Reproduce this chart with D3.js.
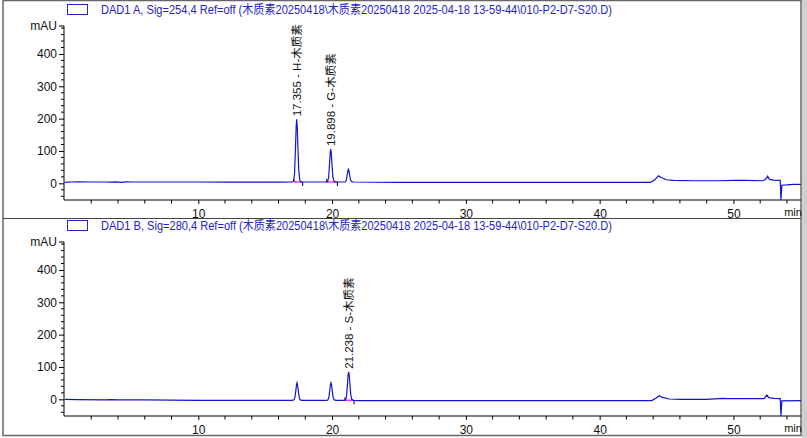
<!DOCTYPE html>
<html><head><meta charset="utf-8">
<script src="https://cdn.jsdelivr.net/npm/d3@7"></script>
<style>body{margin:0;background:#fff}svg{display:block}text{font-family:Arial,"Liberation Sans","Noto Sans CJK SC",sans-serif}</style>
</head><body><svg id="c" width="807" height="438"></svg>
<script>
// ---- data ----
const titleA = "DAD1 A, Sig=254,4 Ref=off (木质素20250418\\木质素20250418 2025-04-18 13-59-44\\010-P2-D7-S20.D)";
const titleB = "DAD1 B, Sig=280,4 Ref=off (木质素20250418\\木质素20250418 2025-04-18 13-59-44\\010-P2-D7-S20.D)";
const yTicks = [0, 100, 200, 300, 400];
const xTicks = [10, 20, 30, 40, 50];
const signalA = [[0,3],[0.5,4],[1,4.5],[2,4],[3,4],[3.5,3.5],[3.8,4.5],[4.2,3],[4.6,4.2],[5,4],[6,4],[8,4],[10,4],[12,3.5],[14,3.5],[16,3.5],[17.0,4],
 [17.115,6],[17.195,30],[17.275,122],[17.315,175],[17.355,198],[17.395,175],[17.435,125],[17.515,35],[17.6,8],[17.7,4],
 [19.5,4],[19.66,5],[19.74,18],[19.82,66],[19.86,94],[19.898,106],[19.94,95],[19.98,68],[20.06,20],[20.15,6],[20.25,4],
 [21.0,4],[21.06,9],[21.14,28],[21.18,39],[21.22,43],[21.26,39],[21.30,29],[21.38,10],[21.46,5],[21.6,4],
 [25,3],[30,3],[35,3],[40,3],[43.8,3],[44.1,10],[44.4,23],[44.6,18],[45,11],[45.5,9],[47,8],[49,8],[50,9],[51,9],[52.2,8],[52.45,14],[52.55,22],[52.7,12],[53,10],[53.5,9],[53.55,-60],[53.62,-6],[54,-5],[54.5,-3],[55.05,-3]];
const signalB = [[0,0],[1,-1],[3,-1.5],[3.5,-1],[4,-2],[6,-2],[10,-3],[14,-3],[17.0,-3],
 [17.14,-2],[17.22,5],[17.30,29],[17.34,45],[17.38,51],[17.42,45],[17.46,31],[17.54,6],[17.62,-2],[17.75,-3],
 [19.6,-3],[19.68,-2],[19.76,6],[19.84,31],[19.88,45],[19.92,51],[19.96,45],[20.0,31],[20.08,6],[20.16,-2],[20.3,-3],
 [20.95,-3],[21.0,-2],[21.08,9],[21.16,52],[21.20,76],[21.238,85],[21.28,76],[21.32,54],[21.40,12],[21.48,-1],[21.6,-3],
 [22,-4],[30,-4],[40,-4],[43.9,-4],[44.2,3],[44.45,11],[44.7,6],[45.2,1],[46,0],[48,0],[49.2,3],[49.6,2],[50.5,2],[52.3,2],[52.5,13],[52.65,5],[53,3],[53.5,2],[53.55,-60],[53.62,-5],[55.05,-4]];
const peaksA = [{t:17.355, v:198, label:"17.355 - H-木质素"}, {t:19.898, v:106, label:"19.898 - G-木质素"}];
const peaksB = [{t:21.238, v:85, label:"21.238 - S-木质素"}];
const integA = [[17.15, 17.8, 4], [19.6, 20.4, 4]];
const integB = [[20.96, 21.64, -3]];

// ---- drawing ----
const svg = d3.select("#c");
const lineCol = "#1414cc", textBlue = "#2323c8", pink = "#ff30c8";
const x = d3.scaleLinear().domain([0, 55.05]).range([64.5, 801]);
const y = d3.scaleLinear().domain([-51.6, 486.5]).range([200, 26]);

// frame
svg.append("rect").attr("x", 802).attr("y", 0).attr("width", 5).attr("height", 438).attr("fill", "#d0d0d0");
svg.append("rect").attr("x", 3).attr("y", 0.5).attr("width", 798).attr("height", 435).attr("fill", "none").attr("stroke", "#666").attr("stroke-width", 1.5);
svg.append("line").attr("x1", 3).attr("x2", 801).attr("y1", 218.5).attr("y2", 218.5).attr("stroke", "#444").attr("stroke-width", 1.2);

function panel(dy, title, signal, peaks, integ) {
  const g = svg.append("g").attr("transform", `translate(0,${dy})`);
  svg.append("defs").append("clipPath").attr("id", "cp" + dy).append("rect")
    .attr("x", 64).attr("y", 20).attr("width", 738).attr("height", 180.5);
  // title
  g.append("rect").attr("x", 67.5).attr("y", 4.5).attr("width", 20).attr("height", 10).attr("fill", "#fff").attr("stroke", textBlue).attr("stroke-width", 1);
  g.append("text").attr("x", 101).attr("y", 14).attr("font-size", 12).attr("fill", textBlue)
    .attr("textLength", 511).attr("lengthAdjust", "spacingAndGlyphs").text(title);
  // y axis
  const ya = d3.axisLeft(y).tickValues(yTicks).tickSize(5).tickPadding(2).tickFormat(d3.format("d"));
  const yAx = g.append("g").attr("transform", "translate(64,0)").call(ya);
  yAx.select(".domain").attr("d", `M0,${y.range()[1]}V${y.range()[0]}`);
  yAx.selectAll("text").attr("font-size", 12).attr("fill", "#111").attr("font-family", "Arial, 'Liberation Sans', sans-serif");
  const yMinor = d3.range(-40, 481, 20).filter(v => v % 100 !== 0);
  g.append("g").selectAll("line").data(yMinor).join("line")
    .attr("x1", 61).attr("x2", 64).attr("y1", d => y(d)).attr("y2", d => y(d)).attr("stroke", "#000");
  g.append("line").attr("x1", 59).attr("x2", 64).attr("y1", 26).attr("y2", 26).attr("stroke", "#000");
  g.append("text").attr("x", 57).attr("y", 30).attr("text-anchor", "end").attr("font-size", 12).attr("fill", "#111").text("mAU");
  // x axis
  const xa = d3.axisBottom(x).tickValues(xTicks).tickSize(4).tickPadding(5).tickFormat(d3.format("d"));
  const xAx = g.append("g").attr("transform", "translate(0,200)").call(xa);
  xAx.select(".domain").attr("d", `M64,0H801`);
  xAx.selectAll("text").attr("font-size", 12).attr("fill", "#111").attr("font-family", "Arial, 'Liberation Sans', sans-serif");
  const xMinor = d3.range(2, 55, 2).filter(v => v % 10 !== 0);
  g.append("g").selectAll("line").data(xMinor).join("line")
    .attr("x1", d => x(d)).attr("x2", d => x(d)).attr("y1", 200).attr("y2", 203.5).attr("stroke", "#000");
  g.append("text").attr("x", 793).attr("y", 216).attr("text-anchor", "middle").attr("font-size", 11).attr("fill", "#111").text("min");
  // integration baselines
  integ.forEach(([a, b, v]) => {
    g.append("line").attr("x1", x(a)).attr("x2", x(b)).attr("y1", y(v)).attr("y2", y(v)).attr("stroke", pink).attr("stroke-width", 1.5);
    g.append("line").attr("x1", x(a)).attr("x2", x(a)).attr("y1", y(v) - 3).attr("y2", y(v)).attr("stroke", "#000");
    g.append("line").attr("x1", x(b)).attr("x2", x(b)).attr("y1", y(v)).attr("y2", y(v) + 4).attr("stroke", "#000");
  });
  // signal
  const ln = d3.line().x(d => x(d[0])).y(d => y(Math.max(d[1], -51.6)));
  g.append("path").attr("clip-path", `url(#cp${dy})`).datum(signal).attr("d", ln)
    .attr("fill", "none").attr("stroke", lineCol).attr("stroke-width", 1.2);
  // peak labels
  peaks.forEach(p => {
    g.append("text").attr("transform", `translate(${x(p.t)},${y(p.v) - 3}) rotate(-90)`)
      .attr("dominant-baseline", "central").attr("font-size", 11.5).attr("fill", "#111").text(p.label);
  });
}
panel(0, titleA, signalA, peaksA, integA);
panel(216, titleB, signalB, peaksB, integB);
</script></body></html>
